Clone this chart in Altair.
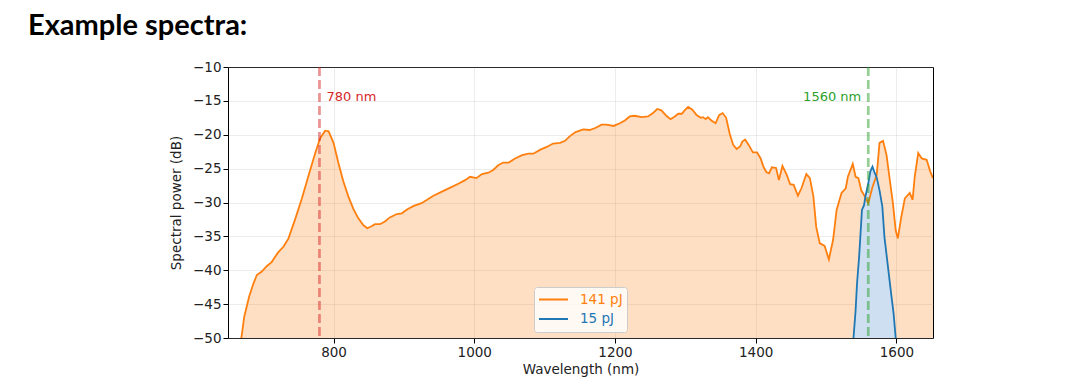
import altair as alt
import pandas as pd

# ---- data ----
wl_141 = [665, 669, 673, 680, 686, 691, 698, 705, 712, 721, 729, 736, 745, 755, 764, 774, 781, 788, 793,
          800, 807, 814, 821, 828, 835, 842, 848, 854, 859, 866, 873, 880, 890, 897, 905, 914, 925, 933,
          942, 954, 966, 978, 987, 994, 1003, 1011, 1020, 1027, 1034, 1041, 1049, 1058, 1068, 1077, 1084,
          1094, 1103, 1112, 1122, 1129, 1136, 1144, 1155, 1164, 1172, 1181, 1188, 1198, 1207, 1214, 1221,
          1228, 1238, 1247, 1254, 1260, 1266, 1273, 1279, 1285, 1290, 1295, 1299, 1304, 1310, 1316, 1322,
          1325, 1329, 1332, 1337, 1343, 1348, 1353, 1358, 1363, 1368, 1373, 1378, 1381, 1385, 1390, 1396,
          1402, 1407, 1411, 1415, 1419, 1423, 1429, 1433, 1438, 1444, 1449, 1454, 1460, 1465, 1472, 1477,
          1482, 1486, 1491, 1498, 1504, 1510, 1515, 1522, 1528, 1531, 1538, 1542, 1546, 1550, 1554, 1560,
          1566, 1572, 1576, 1581, 1586, 1590, 1595, 1599, 1602, 1607, 1612, 1619, 1623, 1626, 1631, 1636,
          1643, 1648, 1652]
db_141 = [-52, -50, -46.9, -43.9, -42, -40.7, -40.2, -39.4, -38.8, -37.4, -36.5, -35.3, -32.6, -29.4, -26.2,
          -22.7, -20.5, -19.4, -19.5, -21.2, -24.2, -26.9, -29.1, -30.9, -32.3, -33.3, -33.8, -33.5, -33.2,
          -33.2, -32.8, -32.2, -31.7, -31.6, -31.0, -30.5, -30.1, -29.6, -29.0, -28.4, -27.8, -27.2, -26.7,
          -26.2, -26.4, -25.8, -25.6, -25.2, -24.5, -24.1, -24.1, -23.5, -23.0, -22.8, -22.8, -22.2, -21.8,
          -21.3, -21.2, -20.9, -20.2, -19.6, -19.2, -19.3, -19.0, -18.5, -18.5, -18.7, -18.3, -17.9, -17.3,
          -17.2, -17.4, -17.3, -16.8, -16.2, -16.4, -17.2, -17.7, -17.3, -16.9, -16.9, -16.4, -15.9, -16.3,
          -17.1, -17.5, -17.4, -17.7, -17.4, -17.9, -18.3, -17.1, -16.8, -17.5, -19.8, -21.5, -22.1, -21.7,
          -21.0, -20.7, -21.5, -22.6, -22.6, -23.5, -24.7, -25.5, -25.7, -24.8, -24.9, -26.7, -24.6, -25.9,
          -27.3, -27.4, -29.0, -27.9, -25.8, -26.4, -29.1, -33.6, -36.0, -36.4, -38.4, -35.5, -31.1, -28.6,
          -27.9, -26.2, -24.3, -26.2, -26.4, -28.2, -28.9, -30.1, -27.7, -25.9, -21.2, -20.9, -23.0, -26.2,
          -30.1, -34.1, -35.3, -32.1, -29.4, -28.6, -29.6, -26.2, -22.7, -23.5, -23.7, -25.4, -26.4]

wl_15 = [1536, 1539, 1542, 1544, 1547, 1549, 1551, 1554, 1556, 1560, 1563, 1566, 1569, 1572, 1576, 1580,
         1583, 1588, 1593, 1596, 1599, 1601]
db_15 = [-53, -50, -45.9, -42, -38, -34.6, -31.1, -30.4, -29.1, -27.2, -25.4, -24.7, -25.6, -26.3, -28.2,
         -30.6, -35.1, -39.5, -43.9, -46.4, -50, -53]

series_names = ["141 pJ", "15 pJ"]
series_colors = ["#ff7f0e", "#1f77b4"]

marker_wl = [780, 1560]
marker_colors = ["#d62728", "#2ca02c"]
marker_text = ["780 nm", "1560 nm"]
label_wl = [790, 1550]
label_db = [-14.4, -14.4]

x_ticks = [800, 1000, 1200, 1400, 1600]
y_ticks = [-50, -45, -40, -35, -30, -25, -20, -15, -10]

df141 = pd.DataFrame({"wl": wl_141, "db": db_141, "series": series_names[0]})
df15 = pd.DataFrame({"wl": wl_15, "db": db_15, "series": series_names[1]})

FONT = "DejaVu Sans"

xs = alt.Scale(domain=[650, 1652], nice=False, zero=False)
ys = alt.Scale(domain=[-50, -10], nice=False, zero=False)
X = alt.X("wl:Q", scale=xs, title="Wavelength (nm)",
          axis=alt.Axis(values=x_ticks, format="d"))
Y = alt.Y("db:Q", scale=ys, title="Spectral power (dB)",
          axis=alt.Axis(values=y_ticks, format="d"))

area141 = alt.Chart(df141).mark_area(color=series_colors[0], opacity=0.25, clip=True).encode(
    x=X, y=Y, y2=alt.datum(-60))
area15 = alt.Chart(df15).mark_area(color="#cddff0", opacity=1, clip=True).encode(
    x=X, y=Y, y2=alt.datum(-60))

color = alt.Color(
    "series:N",
    scale=alt.Scale(domain=series_names, range=series_colors),
    legend=alt.Legend(
        title=None, orient="none", legendX=306, legendY=220,
        symbolType="stroke", symbolSize=841, symbolStrokeWidth=2,
        clipHeight=17, rowPadding=2.6, padding=4, labelOffset=11,
        labelFont=FONT, labelFontSize=13.5,
        labelColor={"expr": "datum.label === '141 pJ' ? '#ff7f0e' : '#1f77b4'"},
        fillColor="rgba(255,255,255,0.8)", strokeColor="#cccccc", cornerRadius=3,
    ),
)
line141 = alt.Chart(df141).mark_line(strokeWidth=1.8, clip=True).encode(x=X, y=Y, color=color)
line15 = alt.Chart(df15).mark_line(strokeWidth=1.8, clip=True).encode(x=X, y=Y, color=color)

rules = []
texts = []
for i in range(2):
    dfm = pd.DataFrame({"wl": [marker_wl[i]]})
    rules.append(alt.Chart(dfm).mark_rule(color=marker_colors[i], opacity=0.5, strokeWidth=2.7,
                                          strokeDash=[9, 4]).encode(x=X))
    dft = pd.DataFrame({"wl": [label_wl[i]], "db": [label_db[i]], "t": [marker_text[i]]})
    texts.append(alt.Chart(dft).mark_text(color=marker_colors[i], font=FONT, fontSize=13,
                                          align="left" if i == 0 else "right", baseline="middle").encode(
        x=X, y=Y, text="t:N"))

chart = alt.layer(area141, area15, line141, line15, *rules, *texts).properties(
    width=705, height=271,
    background="white",
    autosize=alt.AutoSizeParams(type="none"),
    padding={"left": 228, "top": 67, "right": 147, "bottom": 47},
    title=alt.TitleParams("Example spectra:", anchor="start", frame="group", font="Lato",
                          fontSize=29, fontWeight="bold", color="#000000", dx=-200, dy=4,
                          baseline="alphabetic", offset=0),
).configure_view(stroke="#000000", strokeWidth=1).configure_axis(
    domain=False, tickColor="#000000", tickSize=5, tickWidth=1,
    labelFont=FONT, labelFontSize=13.5, labelColor="#222222", labelPadding=2,
    titleFont=FONT, titleFontSize=13.5, titleFontWeight="normal", titleColor="#222222",
    gridColor="#b0b0b0", gridOpacity=0.3, gridWidth=0.8,
).configure_axisY(titlePadding=9).configure_axisX(titlePadding=4)

chart.save("out.html", embed_options={"renderer": "svg", "actions": False})
